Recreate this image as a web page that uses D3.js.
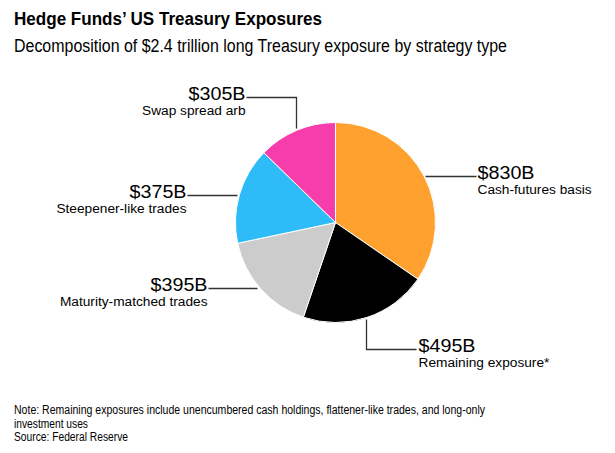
<!DOCTYPE html>
<html>
<head>
<meta charset="utf-8">
<script src="https://cdn.jsdelivr.net/npm/d3@7"></script>
<style>
  body { margin: 0; background: #fff; }
  svg text { font-family: "Liberation Sans", Arial, sans-serif; fill: #000; }
</style>
</head>
<body>
<div id="chart"></div>
<script>
const strategies = ["Cash-futures basis", "Remaining exposure*", "Maturity-matched trades", "Steepener-like trades", "Swap spread arb"];
const exposures = [830, 495, 395, 375, 305];
const valueLabels = ["$830B", "$495B", "$395B", "$375B", "$305B"];
const sliceColors = ["#ffa12f", "#000000", "#cccccc", "#2dbcf8", "#f73cab"];

const width = 615;
const height = 453;
const center = { x: 335.5, y: 222.5 };
const radius = 100;

const data = strategies.map((name, i) => ({
  name,
  value: exposures[i],
  label: valueLabels[i],
  color: sliceColors[i],
}));

const svg = d3.select("#chart")
  .append("svg")
  .attr("width", width)
  .attr("height", height);

// header (source font is narrower than Arial, so squeeze to measured widths)
svg.append("text")
  .attr("x", 14).attr("y", 25)
  .attr("font-size", 18.5).attr("font-weight", "bold")
  .attr("textLength", 308).attr("lengthAdjust", "spacingAndGlyphs")
  .text("Hedge Funds\u2019 US Treasury Exposures");

svg.append("text")
  .attr("x", 14).attr("y", 52)
  .attr("font-size", 18)
  .attr("textLength", 493).attr("lengthAdjust", "spacingAndGlyphs")
  .text("Decomposition of $2.4 trillion long Treasury exposure by strategy type");

// pie
const pie = d3.pie().sort(null).value((d) => d.value);
const arc = d3.arc().innerRadius(0).outerRadius(radius);
const arcs = pie(data);

const g = svg.append("g").attr("transform", `translate(${center.x}, ${center.y})`);

g.selectAll("path")
  .data(arcs)
  .join("path")
  .attr("d", arc)
  .attr("fill", (d) => d.data.color)
  .attr("stroke", "#fff")
  .attr("stroke-width", 1);

// callouts: leader polyline points relative to pie centre, text anchor point
const callouts = [
  { pts: [[90, -46], [141, -46]], tx: 142, ty: -46, anchor: "start" },
  { pts: [[31, 97], [31, 127], [81, 127]], tx: 83, ty: 127, anchor: "start" },
  { pts: [[-78, 66], [-127, 66]], tx: -128, ty: 66, anchor: "end" },
  { pts: [[-98, -27], [-148, -27]], tx: -149, ty: -27, anchor: "end" },
  { pts: [[-39, -94], [-39, -125], [-89, -125]], tx: -90, ty: -125, anchor: "end" },
];

const line = d3.line();

callouts.forEach((c, i) => {
  const d = data[i];
  g.append("path")
    .attr("d", line(c.pts))
    .attr("fill", "none")
    .attr("stroke", "#333")
    .attr("stroke-width", 1.3);

  g.append("text")
    .attr("x", c.tx).attr("y", c.ty + 2)
    .attr("text-anchor", c.anchor)
    .attr("font-size", 18)
    .attr("textLength", 57).attr("lengthAdjust", "spacingAndGlyphs")
    .text(d.label);

  g.append("text")
    .attr("x", c.tx).attr("y", c.ty + 17)
    .attr("text-anchor", c.anchor)
    .attr("font-size", 13.7)
    .text(d.name);
});

// footer
const notes = [
  "Note: Remaining exposures include unencumbered cash holdings, flattener-like trades, and long-only",
  "investment uses",
  "Source: Federal Reserve",
];
const noteWidths = [471, 74, 114];
svg.append("g").selectAll("text")
  .data(notes)
  .join("text")
  .attr("x", 14)
  .attr("y", (d, i) => 414 + i * 13.7)
  .attr("font-size", 12.5)
  .attr("textLength", (d, i) => noteWidths[i])
  .attr("lengthAdjust", "spacingAndGlyphs")
  .text((d) => d);
</script>
</body>
</html>
